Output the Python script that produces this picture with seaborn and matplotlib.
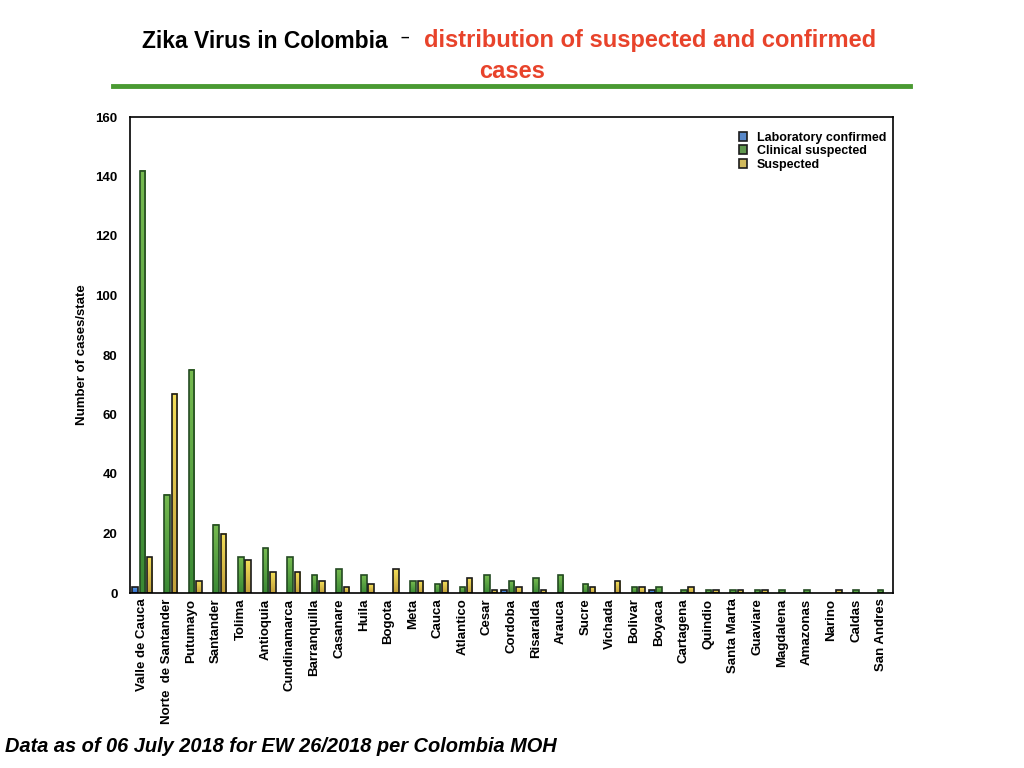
import numpy as np
import pandas as pd
import matplotlib
matplotlib.use("Agg")
import matplotlib.pyplot as plt
import seaborn as sns
from matplotlib.lines import Line2D
from matplotlib.colors import LinearSegmentedColormap

# Données
states = ['Valle de Cauca', 'Norte  de Santander', 'Putumayo', 'Santander', 'Tolima',
          'Antioquia', 'Cundinamarca', 'Barranquilla', 'Casanare', 'Huila', 'Bogota',
          'Meta', 'Cauca', 'Atlantico', 'Cesar', 'Cordoba', 'Risaralda', 'Arauca',
          'Sucre', 'Vichada', 'Bolivar', 'Boyaca', 'Cartagena', 'Quindio',
          'Santa Marta', 'Guaviare', 'Magdalena', 'Amazonas', 'Narino', 'Caldas',
          'San Andres']
lab_confirmed = [2, 0, 0, 0, 0, 0, 0, 0, 0, 0, 0, 0, 0, 0, 0, 1, 0, 0, 0, 0, 0, 1,
                 0, 0, 0, 0, 0, 0, 0, 0, 0]
clinical_suspected = [142, 33, 75, 23, 12, 15, 12, 6, 8, 6, 0, 4, 3, 2, 6, 4, 5, 6,
                      3, 0, 2, 2, 1, 1, 1, 1, 1, 1, 0, 1, 1]
suspected = [12, 67, 4, 20, 11, 7, 7, 4, 2, 3, 8, 4, 4, 5, 1, 2, 1, 0, 2, 4, 2, 0,
             2, 1, 1, 1, 0, 0, 1, 0, 0]
series = ['Laboratory confirmed', 'Clinical suspected', 'Suspected']
colors = ['#4585dc', '#58a342', '#e4c64a']
# dégradés (bas -> haut) pour imiter le rendu Keynote
gradients = [('#2f6cc8', '#5c9cea'), ('#3a8a34', '#76ba50'), ('#c2a03a', '#f3de5a')]
edges = ['#1a1a1a', '#244a22', '#1a1a1a']

df = pd.DataFrame({
    'state': states * 3,
    'type': [series[0]] * len(states) + [series[1]] * len(states) + [series[2]] * len(states),
    'cases': lab_confirmed + clinical_suspected + suspected,
})

plt.rcParams['font.family'] = ['Liberation Sans', 'DejaVu Sans']

fig = plt.figure(figsize=(10.24, 7.68), dpi=100)
ax = fig.add_axes([130 / 1024, 1 - 593 / 768, 763 / 1024, 476 / 768])

sns.barplot(data=df, x='state', y='cases', hue='type', palette=colors,
            width=0.9, gap=0.25, edgecolor='#1c1c1c', linewidth=1.2,
            errorbar=None, ax=ax)

leg = ax.legend(loc='upper left', bbox_to_anchor=(0.783, 0.993), frameon=False,
                handlelength=0.7, handleheight=0.7, handletextpad=0.75,
                labelspacing=0.12, prop={'weight': 'bold', 'size': 9})

# remplissage en dégradé de chaque barre
for cont, (c0, c1), ec in zip(ax.containers, gradients, edges):
    cmap = LinearSegmentedColormap.from_list('g', [c0, c1])
    for bar in cont:
        h = bar.get_height()
        if h <= 0:
            bar.set_visible(False)
            continue
        x0 = bar.get_x()
        w = bar.get_width()
        bar.set_facecolor('none')
        bar.set_edgecolor(ec)
        bar.set_zorder(3)
        ax.imshow(np.linspace(0, 1, 64).reshape(-1, 1), cmap=cmap, origin='lower',
                  extent=[x0, x0 + w, 0, h], aspect='auto', zorder=2,
                  interpolation='bilinear')

ax.set_ylim(0, 160)
ax.set_yticks(range(0, 161, 20))
ax.set_xlim(-0.5, len(states) - 0.5)
ax.tick_params(axis='y', length=0, pad=9)
ax.tick_params(axis='x', length=0, pad=4)
for lab in ax.get_yticklabels():
    lab.set_fontweight('bold')
    lab.set_fontsize(9.5)
ax.set_xticks(range(len(states)))
ax.set_xticklabels(states, rotation=90, fontsize=9.5, fontweight='bold')
ax.set_xlabel('')
ax.set_ylabel('Number of cases/state', fontsize=9.5, fontweight='bold', labelpad=5)
for s in ax.spines.values():
    s.set_linewidth(1.2)
    s.set_color('black')
    s.set_zorder(4)

# Titre
fig.text(388 / 1024, 1 - 41 / 768, 'Zika Virus in Colombia', fontsize=16.5,
         fontweight='bold', color='black', va='center', ha='right')
fig.text(405 / 1024, 1 - 38 / 768, '–', fontsize=11, fontweight='bold',
         color='black', va='center', ha='center')
fig.text(424 / 1024, 1 - 41 / 768, 'distribution of suspected and confirmed',
         fontsize=17, fontweight='bold', color='#e8432b', va='center', ha='left')
fig.text(512 / 1024, 1 - 72 / 768, 'cases', fontsize=17, fontweight='bold',
         color='#e8432b', va='center', ha='center')
fig.add_artist(Line2D([113 / 1024, 910 / 1024], [1 - 86 / 768, 1 - 86 / 768],
                      color='#4a9a32', linewidth=3.5, transform=fig.transFigure))

fig.text(5 / 1024, 1 - 746 / 768,
         'Data as of 06 July 2018 for EW 26/2018 per Colombia MOH',
         fontsize=14.4, fontweight='bold', fontstyle='italic', va='center', ha='left')

fig.savefig('out.png', dpi=100)
plt.close(fig)
